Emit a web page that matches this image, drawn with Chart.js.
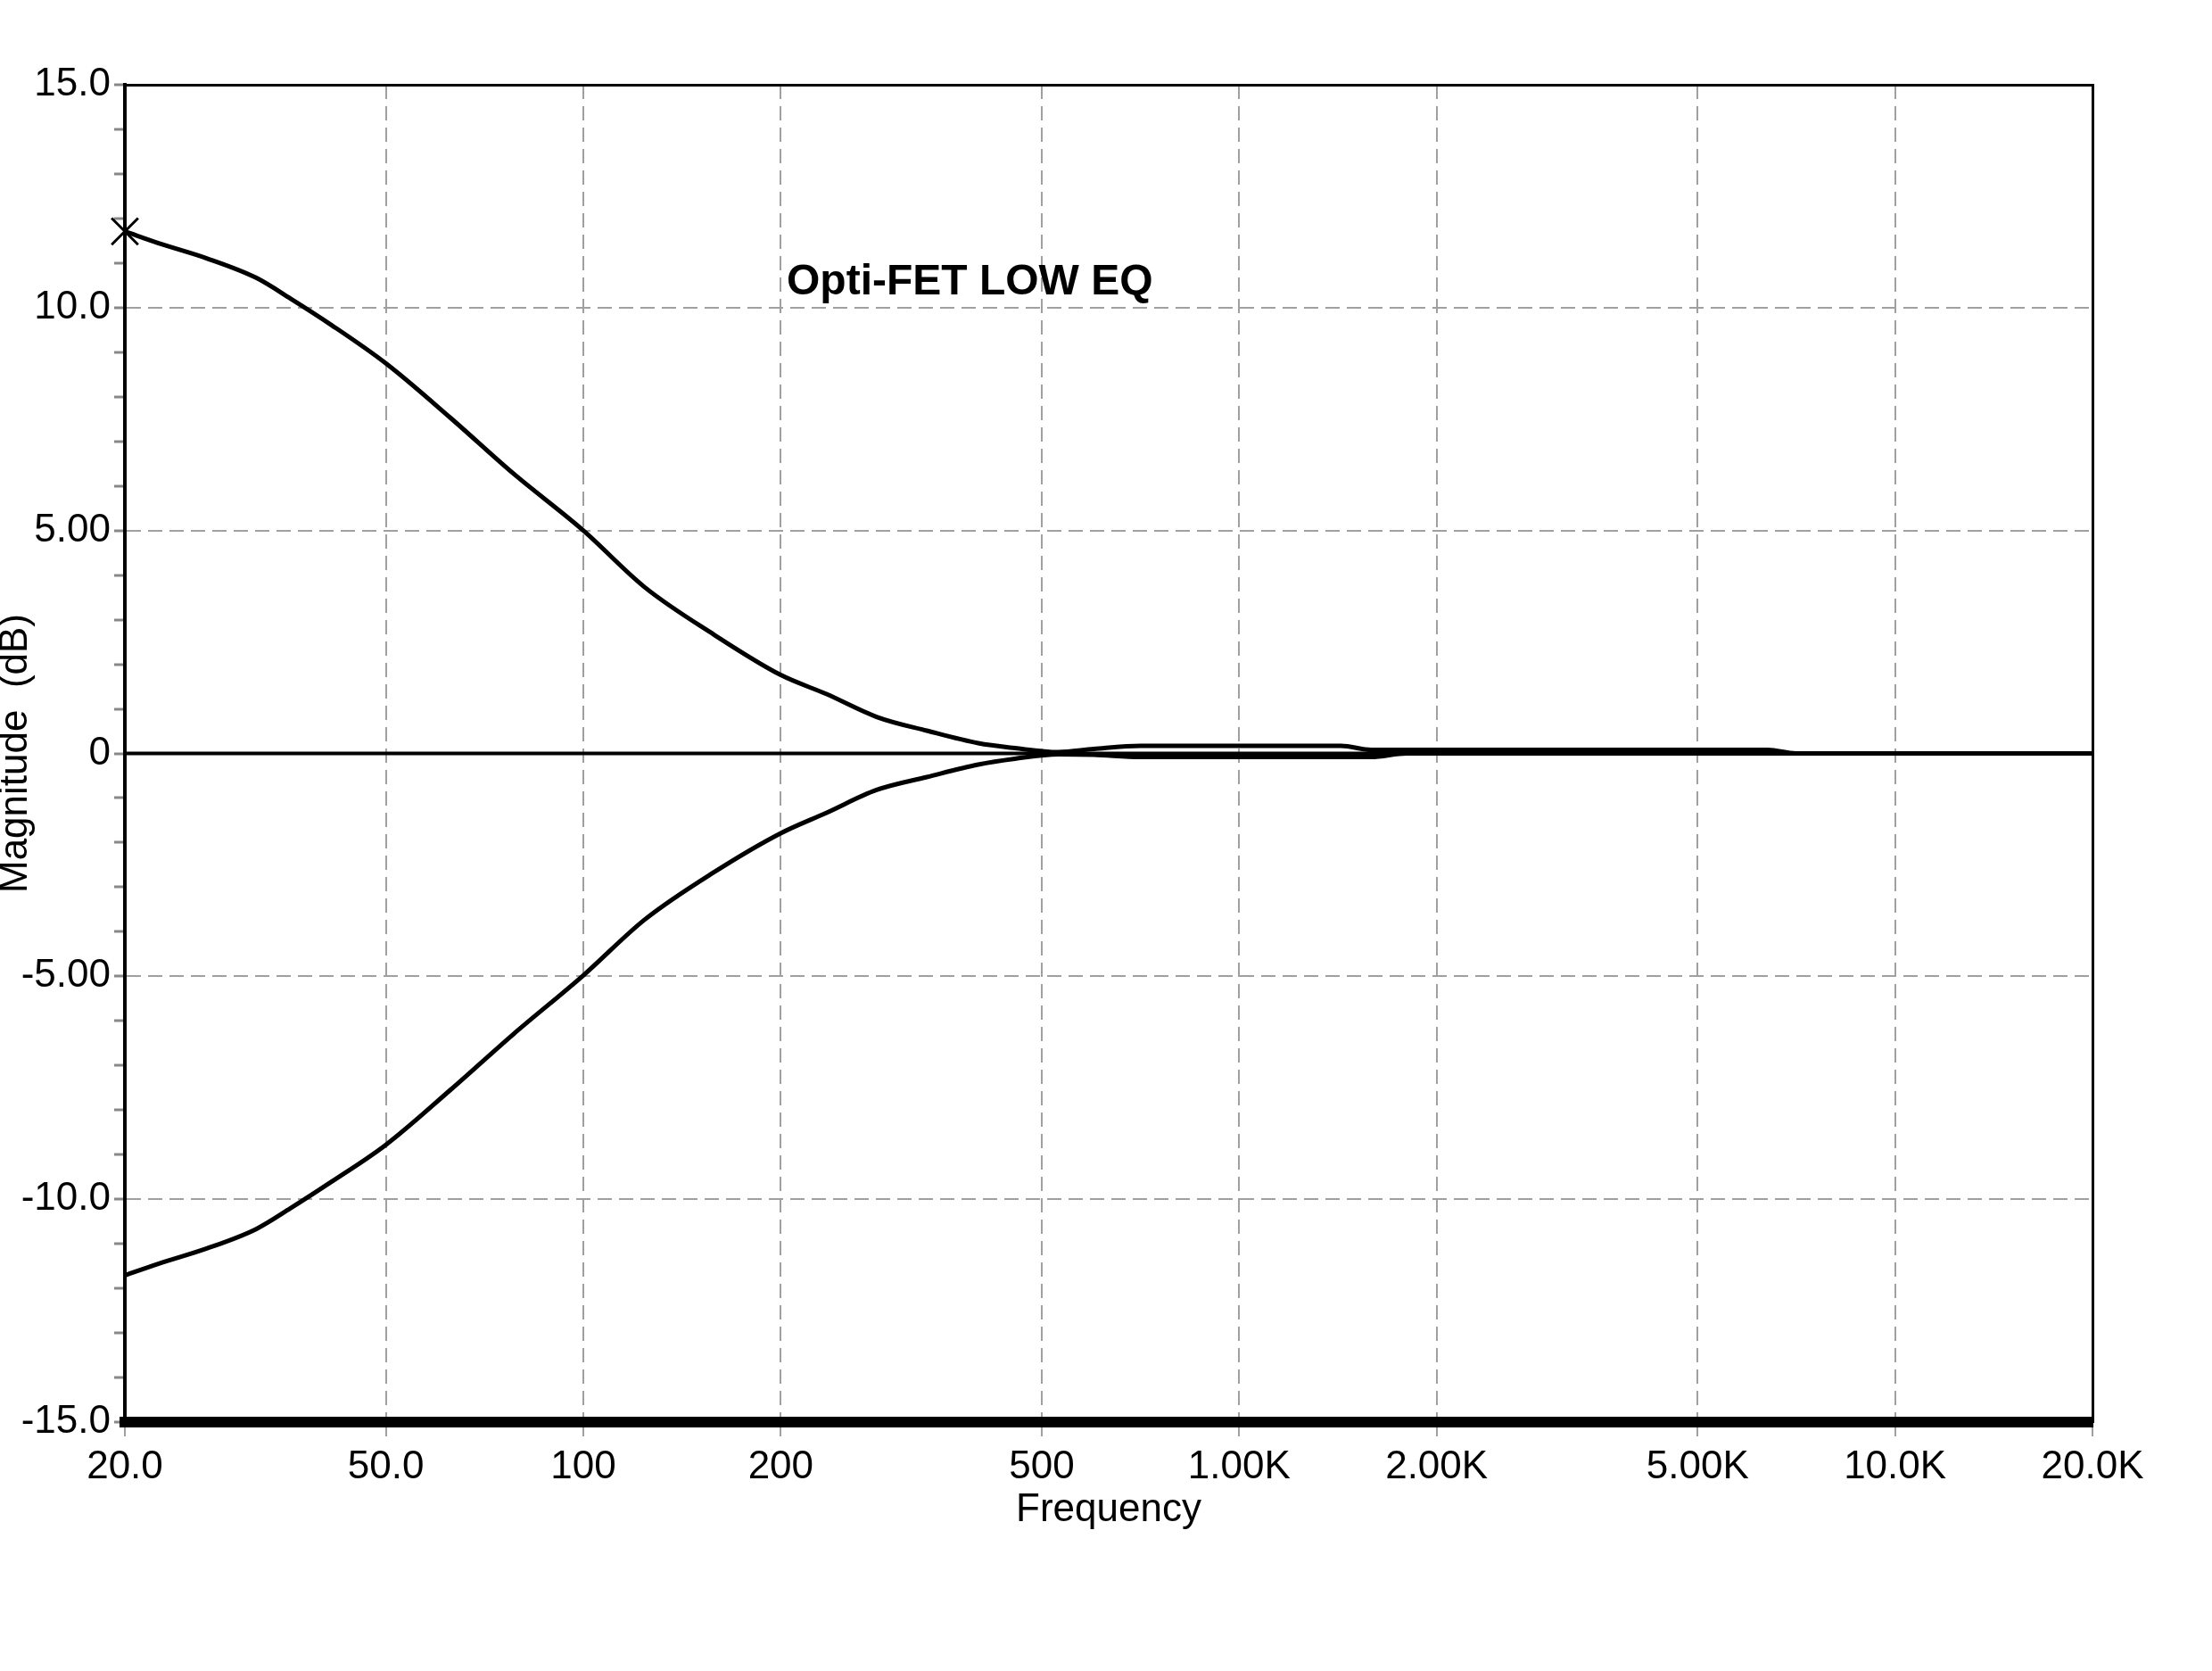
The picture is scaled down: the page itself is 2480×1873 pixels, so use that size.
<!DOCTYPE html>
<html>
<head>
<meta charset="utf-8">
<script src="https://cdn.jsdelivr.net/npm/chart.js@4.4.1/dist/chart.umd.min.js"></script>
<style>
  html, body { margin: 0; padding: 0; background: #fff; }
  canvas { display: block; }
</style>
</head>
<body>
<canvas id="myChart" width="2480" height="1873"></canvas>
<script>
// frequency points (Hz)
const freqs = [20, 22.8, 26.6, 31.7, 35.8, 41.3, 50, 62.7, 78.2, 100, 124, 158, 200, 235, 280, 334, 400, 455, 530, 600, 707, 1000, 1430, 1590, 1800, 2500, 4000, 6400, 7060, 10000, 20000];
// boost curve (dB)
const boost = [11.71, 11.42, 11.11, 10.67, 10.2, 9.61, 8.75, 7.53, 6.28, 5.0, 3.73, 2.67, 1.76, 1.33, 0.82, 0.51, 0.23, 0.12, 0.03, 0.1, 0.17, 0.17, 0.17, 0.08, 0.08, 0.08, 0.08, 0.08, 0.0, 0.0, 0.0];
// cut curve (dB)
const cut = [-11.71, -11.42, -11.11, -10.67, -10.2, -9.61, -8.78, -7.55, -6.3, -4.98, -3.73, -2.67, -1.79, -1.33, -0.82, -0.53, -0.25, -0.12, -0.02, -0.03, -0.08, -0.08, -0.08, -0.08, 0.0, 0.0, 0.0, 0.0, 0.0, 0.0, 0.0];
// 0 dB reference line
const zeroFreqs = [20, 20000];
const zeroLine = [0, 0];

const xTicks = [20, 50, 100, 200, 500, 1000, 2000, 5000, 10000, 20000];
const xLabels = ['20.0', '50.0', '100', '200', '500', '1.00K', '2.00K', '5.00K', '10.0K', '20.0K'];
const yTicks = [15, 10, 5, 0, -5, -10, -15];
const yLabels = ['15.0', '10.0', '5.00', '0', '-5.00', '-10.0', '-15.0'];

const chartTitle = 'Opti-FET LOW EQ';

function toPoints(xs, ys) {
  return xs.map((x, i) => ({x: x, y: ys[i]}));
}

// text label inside the plot
const titleInside = {
  id: 'titleInside',
  afterDraw(chart) {
    const ctx = chart.ctx;
    const a = chart.chartArea;
    ctx.save();
    ctx.font = 'bold 48px "Liberation Sans", Arial, sans-serif';
    ctx.fillStyle = '#000';
    ctx.textAlign = 'left';
    ctx.textBaseline = 'middle';
    ctx.fillText(chartTitle, a.left + 742, a.top + 222);
    ctx.restore();
  }
};

const font = {family: '"Liberation Sans", Arial, sans-serif', size: 44};
const gridGrey = '#a0a0a0';

const ctx = document.getElementById('myChart').getContext('2d');
const chart = new Chart(ctx, {
  type: 'line',
  data: {
    datasets: [
      {
        data: toPoints(zeroFreqs, zeroLine),
        borderColor: '#000',
        borderWidth: 4,
        pointRadius: 0
      },
      {
        data: toPoints(freqs, boost),
        borderColor: '#000',
        borderWidth: 5,
        cubicInterpolationMode: 'monotone',
        pointStyle: 'crossRot',
        pointRadius: c => c.dataIndex === 0 ? 21 : 0,
        pointBorderWidth: 3,
        pointBorderColor: '#000'
      },
      {
        data: toPoints(freqs, cut),
        borderColor: '#000',
        borderWidth: 5,
        cubicInterpolationMode: 'monotone',
        pointRadius: 0
      }
    ]
  },
  options: {
    responsive: false,
    devicePixelRatio: 1,
    animation: false,
    clip: false,
    layout: {padding: {left: 0, top: 95, right: 134, bottom: 154}},
    plugins: {legend: {display: false}, tooltip: {enabled: false}},
    scales: {
      x: {
        type: 'logarithmic',
        position: 'bottom',
        min: 20,
        max: 20000,
        afterBuildTicks: s => { s.ticks = xTicks.map(v => ({value: v})); },
        afterFit: s => { s.height = 125; },
        ticks: {
          autoSkip: false,
          maxRotation: 0,
          padding: 8,
          color: '#000',
          font: font,
          callback: (v, i) => xLabels[i]
        },
        grid: {color: gridGrey, lineWidth: 2, tickLength: 16, tickColor: gridGrey},
        border: {display: true, color: '#000', width: 12, dash: [16, 8]},
        title: {display: true, text: 'Frequency', color: '#000', font: font, padding: 0}
      },
      y: {
        type: 'linear',
        position: 'left',
        min: -15,
        max: 15,
        afterBuildTicks: s => {
          const t = [];
          for (let v = -15; v <= 15; v++) t.push({value: v});
          s.ticks = t;
        },
        afterFit: s => { s.width = 140; },
        ticks: {
          autoSkip: false,
          padding: 4,
          color: '#000',
          font: font,
          callback: v => {
            const i = yTicks.indexOf(v);
            return i >= 0 ? yLabels[i] : '';
          }
        },
        grid: {
          color: c => (c.tick && c.tick.value % 5 === 0 && Math.abs(c.tick.value) !== 15 && c.tick.value !== 0) ? gridGrey : 'rgba(0,0,0,0)',
          lineWidth: 2,
          tickLength: 12,
          tickWidth: 3,
          tickColor: '#888'
        },
        border: {display: true, color: '#000', width: 4, dash: [16, 8]},
        title: {display: true, text: 'Magnitude  (dB)', color: '#000', font: {family: font.family, size: 44, lineHeight: 0.8}, padding: 0}
      },
      xTop: {
        type: 'linear',
        position: 'top',
        display: true,
        afterFit: s => { s.height = 0; },
        ticks: {display: false},
        grid: {display: false, drawTicks: false},
        border: {display: true, color: '#000', width: 3}
      },
      yRight: {
        type: 'linear',
        position: 'right',
        display: true,
        afterFit: s => { s.width = 0; },
        ticks: {display: false},
        grid: {display: false, drawTicks: false},
        border: {display: true, color: '#000', width: 3}
      }
    }
  },
  plugins: [titleInside]
});
</script>
</body>
</html>
